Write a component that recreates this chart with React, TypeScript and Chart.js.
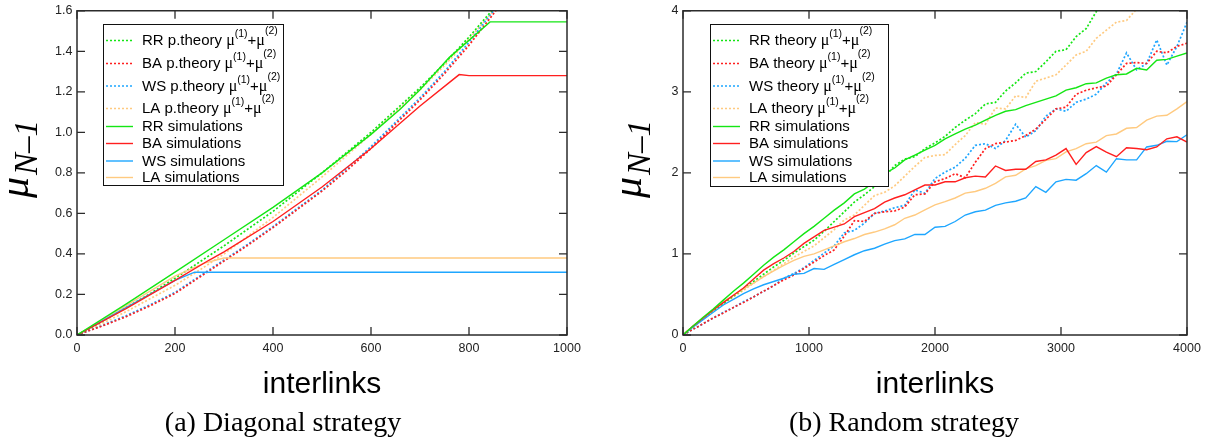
import React, { useEffect, useRef } from 'react';
import { Chart, registerables } from 'chart.js';

Chart.register(...registerables);

// ---------------- Panel (a): Diagonal strategy ----------------
const xTheoryA = [0, 50, 100, 150, 200, 250, 300, 350, 400, 450, 500, 550, 600, 650, 700, 750, 800, 850, 900];
const rrTheoryA = [0, 0.065, 0.135, 0.205, 0.28, 0.36, 0.44, 0.525, 0.61, 0.705, 0.8, 0.9, 1.0, 1.11, 1.22, 1.34, 1.47, 1.61, 1.76];
const baTheoryA = [0, 0.043, 0.09, 0.145, 0.205, 0.285, 0.365, 0.445, 0.53, 0.62, 0.71, 0.81, 0.92, 1.04, 1.16, 1.29, 1.43, 1.585, 1.745];
const wsTheoryA = [0, 0.045, 0.095, 0.15, 0.21, 0.29, 0.37, 0.45, 0.535, 0.625, 0.715, 0.82, 0.93, 1.05, 1.17, 1.3, 1.445, 1.6, 1.76];
const laTheoryA = [0, 0.055, 0.115, 0.18, 0.245, 0.32, 0.4, 0.49, 0.58, 0.68, 0.78, 0.885, 0.99, 1.1, 1.21, 1.33, 1.46, 1.6, 1.74];

const rrSimXA = [0, 100, 200, 300, 400, 500, 600, 660, 700, 760, 843, 1000];
const rrSimA = [0, 0.152, 0.31, 0.47, 0.63, 0.8, 0.99, 1.115, 1.21, 1.37, 1.545, 1.545];
const baSimXA = [0, 100, 200, 270, 300, 400, 500, 600, 700, 780, 800, 1000];
const baSimA = [0, 0.13, 0.27, 0.37, 0.41, 0.56, 0.73, 0.92, 1.13, 1.285, 1.28, 1.28];
const wsSimXA = [0, 100, 200, 240, 1000];
const wsSimA = [0, 0.135, 0.27, 0.31, 0.31];
const laSimXA = [0, 100, 200, 260, 300, 1000];
const laSimA = [0, 0.145, 0.29, 0.355, 0.38, 0.38];

// ---------------- Panel (b): Random strategy ----------------
const xB = [0, 80, 160, 240, 320, 400, 480, 560, 640, 720, 800, 880, 960, 1040, 1120, 1200, 1280, 1360, 1440, 1520,
  1600, 1680, 1760, 1840, 1920, 2000, 2080, 2160, 2240, 2320, 2400, 2480, 2560, 2640, 2720, 2800, 2880, 2960, 3040, 3120,
  3200, 3280, 3360, 3440, 3520, 3600, 3680, 3760, 3840, 3920, 4000];

const rrTheoryB = [0, 0.10, 0.20, 0.30, 0.39, 0.48, 0.57, 0.66, 0.75, 0.84,
  0.92, 1.01, 1.09, 1.17, 1.28, 1.40, 1.52, 1.64, 1.73, 1.83,
  1.95, 2.09, 2.17, 2.20, 2.30, 2.37, 2.45, 2.56, 2.65, 2.73,
  2.85, 2.87, 3.01, 3.11, 3.23, 3.25, 3.37, 3.50, 3.52, 3.68,
  3.78, 3.99, 4.10];
const baTheoryB = [0, 0.07, 0.14, 0.21, 0.27, 0.34, 0.40, 0.47, 0.54, 0.61,
  0.68, 0.74, 0.82, 0.90, 0.98, 1.05, 1.22, 1.41, 1.40, 1.50,
  1.52, 1.53, 1.58, 1.73, 1.74, 1.89, 1.93, 1.99, 1.94, 2.13,
  2.30, 2.36, 2.38, 2.40, 2.46, 2.54, 2.66, 2.79, 2.81, 2.97,
  3.02, 3.05, 3.07, 3.21, 3.35, 3.36, 3.35, 3.50, 3.48, 3.56,
  3.60];
const wsTheoryB = [0, 0.07, 0.14, 0.21, 0.28, 0.34, 0.41, 0.47, 0.54, 0.61,
  0.70, 0.76, 0.83, 0.92, 1.01, 1.10, 1.26, 1.29, 1.38, 1.50,
  1.53, 1.57, 1.60, 1.79, 1.75, 1.93, 2.01, 2.07, 2.18, 2.34,
  2.36, 2.30, 2.40, 2.60, 2.44, 2.52, 2.70, 2.79, 2.76, 2.87,
  2.91, 2.97, 3.11, 3.22, 3.48, 3.27, 3.35, 3.64, 3.33, 3.56,
  3.86];
const laTheoryB = [0, 0.10, 0.20, 0.29, 0.38, 0.47, 0.55, 0.64, 0.72, 0.80,
  0.88, 0.96, 1.03, 1.10, 1.20, 1.30, 1.42, 1.48, 1.60, 1.72,
  1.76, 1.84, 1.96, 2.08, 2.19, 2.215, 2.225, 2.35, 2.46, 2.62,
  2.60, 2.80, 2.79, 2.95, 2.93, 3.13, 3.17, 3.21, 3.33, 3.455,
  3.50, 3.66, 3.76, 3.86, 3.88, 4.02, 4.10];

const rrSimB = [0, 0.11, 0.22, 0.32, 0.43, 0.54, 0.64, 0.75, 0.86, 0.96,
  1.05, 1.15, 1.25, 1.34, 1.44, 1.54, 1.63, 1.74, 1.80, 1.89,
  1.99, 2.06, 2.16, 2.22, 2.28, 2.34, 2.42, 2.48, 2.54, 2.59,
  2.65, 2.71, 2.76, 2.78, 2.83, 2.87, 2.91, 2.95, 3.02, 3.05,
  3.10, 3.11, 3.17, 3.21, 3.22, 3.29, 3.27, 3.39, 3.40, 3.44,
  3.48];
const baSimB = [0, 0.11, 0.21, 0.31, 0.40, 0.49, 0.58, 0.69, 0.80, 0.88,
  0.95, 1.03, 1.13, 1.21, 1.29, 1.33, 1.37, 1.46, 1.51, 1.56,
  1.64, 1.69, 1.73, 1.79, 1.85, 1.85, 1.89, 1.89, 1.94, 1.96,
  1.95, 2.085, 2.03, 2.045, 2.045, 2.14, 2.16, 2.22, 2.30, 2.105,
  2.25, 2.325, 2.255, 2.20, 2.31, 2.30, 2.285, 2.32, 2.42, 2.445,
  2.38];
const wsSimB = [0, 0.10, 0.19, 0.28, 0.37, 0.44, 0.51, 0.57, 0.62, 0.66,
  0.70, 0.75, 0.76, 0.82, 0.81, 0.87, 0.93, 0.99, 1.04, 1.07,
  1.12, 1.165, 1.185, 1.24, 1.24, 1.33, 1.34, 1.40, 1.48, 1.52,
  1.54, 1.60, 1.63, 1.65, 1.69, 1.83, 1.76, 1.89, 1.92, 1.91,
  1.99, 2.09, 2.01, 2.175, 2.16, 2.16, 2.32, 2.34, 2.39, 2.385,
  2.47];
const laSimB = [0, 0.11, 0.21, 0.31, 0.41, 0.49, 0.57, 0.64, 0.72, 0.79,
  0.86, 0.92, 0.97, 1.00, 1.05, 1.10, 1.15, 1.19, 1.24, 1.27,
  1.31, 1.36, 1.44, 1.48, 1.545, 1.605, 1.645, 1.69, 1.75, 1.77,
  1.81, 1.87, 1.95, 1.97, 2.05, 2.09, 2.155, 2.175, 2.26, 2.30,
  2.36, 2.38, 2.46, 2.48, 2.55, 2.56, 2.65, 2.70, 2.71, 2.79,
  2.88];

// ---------------- styles ----------------
const COL = { RR: '#14e614', BA: '#ff1f1f', WS: '#1ea6ff', LA: '#ffca80' };
const SANS = '"Liberation Sans", Arial, sans-serif';
const SERIF = '"Liberation Serif", "Times New Roman", serif';
const DOT = [2, 2];

function ds(label: string, xs: number[], ys: number[], color: string, dotted: boolean) {
  return {
    label,
    data: ys.map((y, i) => ({ x: xs[i], y })),
    borderColor: color,
    backgroundColor: color,
    borderWidth: dotted ? 1.7 : 1.4,
    borderDash: dotted ? DOT : [],
    pointRadius: 0,
    pointHoverRadius: 0,
    tension: 0,
    fill: false,
    order: dotted ? 1 : 0,
  };
}

type Panel = {
  theoryWord: string;
  caption: string;
  captionX: number;
  muX: number;
  box: { l: number; t: number; r: number; b: number };
};

const NAMES = ['RR', 'BA', 'WS', 'LA'] as const;

function makeDecor(p: Panel) {
  return {
    id: 'decor',
    afterDraw(chart: any) {
      const ctx: CanvasRenderingContext2D = chart.ctx;
      const a = chart.chartArea;
      const sx = chart.scales.x;
      const sy = chart.scales.y;
      ctx.save();
      // frame
      ctx.strokeStyle = '#2b2b2b';
      ctx.lineWidth = 1.5;
      ctx.setLineDash([]);
      ctx.strokeRect(a.left, a.top, a.right - a.left, a.bottom - a.top);
      // inward ticks on all four sides
      ctx.lineWidth = 1.3;
      ctx.beginPath();
      for (const t of sx.ticks) {
        const px = sx.getPixelForValue(t.value);
        ctx.moveTo(px, a.bottom); ctx.lineTo(px, a.bottom - 8);
        ctx.moveTo(px, a.top); ctx.lineTo(px, a.top + 8);
      }
      for (const t of sy.ticks) {
        const py = sy.getPixelForValue(t.value);
        ctx.moveTo(a.left, py); ctx.lineTo(a.left + 8, py);
        ctx.moveTo(a.right, py); ctx.lineTo(a.right - 8, py);
      }
      ctx.stroke();

      // legend
      const b = p.box;
      ctx.fillStyle = '#fff';
      ctx.fillRect(b.l, b.t, b.r - b.l, b.b - b.t);
      ctx.strokeStyle = '#111';
      ctx.lineWidth = 1;
      ctx.strokeRect(b.l + 0.5, b.t + 0.5, b.r - b.l, b.b - b.t);
      const baselines = [45, 68, 90.5, 113, 131, 148, 165.5, 182];
      ctx.textAlign = 'left';
      ctx.textBaseline = 'alphabetic';
      for (let i = 0; i < 8; i++) {
        const name = NAMES[i % 4];
        const theory = i < 4;
        const by = baselines[i];
        const ly = by - 4.5;
        ctx.strokeStyle = COL[name];
        ctx.lineWidth = theory ? 1.7 : 1.4;
        ctx.setLineDash(theory ? DOT : []);
        ctx.beginPath();
        ctx.moveTo(b.l + 3, ly);
        ctx.lineTo(b.l + 30, ly);
        ctx.stroke();
        ctx.setLineDash([]);
        ctx.fillStyle = '#000';
        let x = b.l + 39;
        const parts = theory
          ? [
              { t: `${name} ${p.theoryWord} `, f: `15px ${SANS}`, r: 0 },
              { t: 'μ', f: `16px ${SERIF}`, r: 0 },
              { t: '(1)', f: `10.5px ${SANS}`, r: 8 },
              { t: '+', f: `15px ${SANS}`, r: 0 },
              { t: 'μ', f: `16px ${SERIF}`, r: 0 },
              { t: '(2)', f: `10.5px ${SANS}`, r: 11 },
            ]
          : [{ t: `${name} simulations`, f: `15px ${SANS}`, r: 0 }];
        for (const part of parts) {
          ctx.font = part.f;
          ctx.fillText(part.t, x, by - part.r);
          x += ctx.measureText(part.t).width;
        }
      }

      // x title and caption
      ctx.fillStyle = '#000';
      ctx.textAlign = 'center';
      ctx.font = `30px ${SANS}`;
      ctx.fillText('interlinks', (a.left + a.right) / 2, 393);
      ctx.font = `28px ${SERIF}`;
      ctx.fillText(p.caption, p.captionX, 431);

      // y title (rotated)
      ctx.save();
      ctx.translate(p.muX, 198);
      ctx.rotate(-Math.PI / 2);
      ctx.textAlign = 'left';
      ctx.font = `italic 42px ${SERIF}`;
      ctx.fillText('μ', 0, 0);
      const w = ctx.measureText('μ').width;
      ctx.font = `italic 33px ${SERIF}`;
      ctx.fillText('N–1', w + 2, 9);
      ctx.restore();

      ctx.restore();
    },
  };
}

function makeConfig(
  datasets: any[],
  xMax: number, xStep: number, yMax: number, yStep: number, yDec: number,
  yWidth: number, padRight: number, panel: Panel,
) {
  const tickFont = { family: SANS, size: 12.5, lineHeight: 1 };
  return {
    type: 'line' as const,
    data: { datasets },
    options: {
      animation: false as const,
      responsive: false,
      maintainAspectRatio: false,
      events: [] as any[],
      layout: { padding: { left: 0, right: padRight, top: 7, bottom: 0 } },
      plugins: { legend: { display: false }, tooltip: { enabled: false } },
      scales: {
        x: {
          type: 'linear' as const,
          min: 0, max: xMax,
          ticks: {
            stepSize: xStep, padding: 7, font: tickFont, color: '#222', maxRotation: 0, autoSkip: false,
            callback: (v: any) => String(Math.round(Number(v))),
          },
          grid: { display: false, drawTicks: false },
          border: { display: false },
          afterFit: (s: any) => { s.height = 109; },
        },
        y: {
          type: 'linear' as const,
          min: 0, max: yMax,
          ticks: {
            stepSize: yStep, padding: 4.5, font: tickFont, color: '#222',
            callback: (v: any) => Number(v).toFixed(yDec),
          },
          grid: { display: false, drawTicks: false },
          border: { display: false },
          afterFit: (s: any) => { s.width = yWidth; },
        },
      },
    },
    plugins: [makeDecor(panel)],
  };
}

export default function App() {
  const refA = useRef<HTMLCanvasElement>(null);
  const refB = useRef<HTMLCanvasElement>(null);

  useEffect(() => {
    const dsA = [
      ds('RR p.theory', xTheoryA, rrTheoryA, COL.RR, true),
      ds('BA p.theory', xTheoryA, baTheoryA, COL.BA, true),
      ds('WS p.theory', xTheoryA, wsTheoryA, COL.WS, true),
      ds('LA p.theory', xTheoryA, laTheoryA, COL.LA, true),
      ds('RR simulations', rrSimXA, rrSimA, COL.RR, false),
      ds('BA simulations', baSimXA, baSimA, COL.BA, false),
      ds('WS simulations', wsSimXA, wsSimA, COL.WS, false),
      ds('LA simulations', laSimXA, laSimA, COL.LA, false),
    ];
    const dsB = [
      ds('RR theory', xB, rrTheoryB, COL.RR, true),
      ds('BA theory', xB, baTheoryB, COL.BA, true),
      ds('WS theory', xB, wsTheoryB, COL.WS, true),
      ds('LA theory', xB, laTheoryB, COL.LA, true),
      ds('RR simulations', xB, rrSimB, COL.RR, false),
      ds('BA simulations', xB, baSimB, COL.BA, false),
      ds('WS simulations', xB, wsSimB, COL.WS, false),
      ds('LA simulations', xB, laSimB, COL.LA, false),
    ];
    const ca = new Chart(refA.current as HTMLCanvasElement, makeConfig(dsA, 1000, 200, 1.6, 0.2, 1, 77, 38, {
      theoryWord: 'p.theory', caption: '(a) Diagonal strategy', captionX: 283, muX: 28,
      box: { l: 103, t: 24, r: 283, b: 185 },
    }) as any);
    const cb = new Chart(refB.current as HTMLCanvasElement, makeConfig(dsB, 4000, 1000, 4, 1, 0, 78, 24, {
      theoryWord: 'theory', caption: '(b) Random strategy', captionX: 299, muX: 36,
      box: { l: 105, t: 24, r: 283, b: 186 },
    }) as any);
    return () => { ca.destroy(); cb.destroy(); };
  }, []);

  return (
    <div style={{ position: 'absolute', left: 0, top: 0, width: 1211, height: 444, background: '#fff', overflow: 'hidden' }}>
      <canvas ref={refA} width={605} height={444} style={{ position: 'absolute', left: 0, top: 0, width: 605, height: 444 }} />
      <canvas ref={refB} width={606} height={444} style={{ position: 'absolute', left: 605, top: 0, width: 606, height: 444 }} />
    </div>
  );
}
